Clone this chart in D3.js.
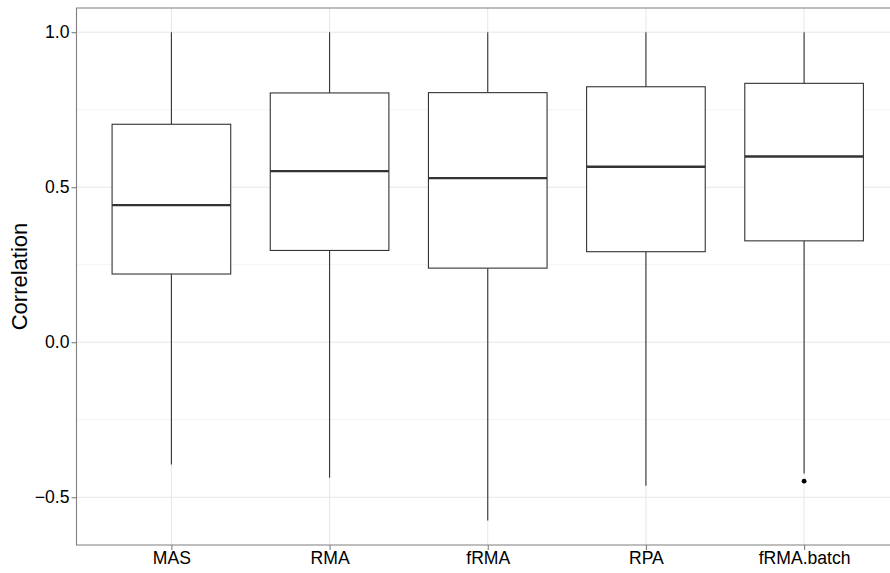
<!DOCTYPE html>
<html>
<head>
<meta charset="utf-8">
<script src="https://cdn.jsdelivr.net/npm/d3@7"></script>
<style>
  html, body { margin: 0; background: #fff; overflow: hidden; }
  svg { display: block; overflow: hidden; font-family: "Liberation Sans", Arial, sans-serif; }
</style>
</head>
<body>
<div id="chart"></div>
<script>
// box statistics
const methods = ["MAS", "RMA", "fRMA", "RPA", "fRMA.batch"];
const whiskerLow = [-0.394, -0.437, -0.575, -0.463, -0.423];
const q1 = [0.220, 0.296, 0.239, 0.292, 0.327];
const median = [0.442, 0.552, 0.529, 0.566, 0.599];
const q3 = [0.703, 0.804, 0.805, 0.824, 0.835];
const whiskerHigh = [1.0, 1.0, 1.0, 1.0, 1.0];
const outliers = [{ method: "fRMA.batch", value: -0.448 }];

const yTicks = [-0.5, 0.0, 0.5, 1.0];
const yMinor = [-0.25, 0.25, 0.75];

const width = 890, height = 573;
const panel = { left: 76.5, top: 8, right: 899, bottom: 545 };

const boxes = methods.map((m, i) => ({
    method: m, lo: whiskerLow[i], q1: q1[i], med: median[i], q3: q3[i], hi: whiskerHigh[i]
}));

const x = d3.scalePoint()
    .domain(methods)
    .range([panel.left, panel.right])
    .padding(0.6);

const y = d3.scaleLinear()
    .domain([-0.654, 1.078])
    .range([panel.bottom, panel.top]);

const boxWidth = x.step() * 0.75;

const svg = d3.select('#chart').append('svg')
    .attr('width', width)
    .attr('height', height);

// grid
const grid = svg.append('g');
grid.selectAll('line.minor')
    .data(yMinor)
    .enter().append('line')
    .attr('x1', panel.left).attr('x2', width)
    .attr('y1', d => y(d)).attr('y2', d => y(d))
    .attr('stroke', '#f4f4f4').attr('stroke-width', 1);
grid.selectAll('line.major')
    .data(yTicks)
    .enter().append('line')
    .attr('x1', panel.left).attr('x2', width)
    .attr('y1', d => y(d)).attr('y2', d => y(d))
    .attr('stroke', '#e6e6e6').attr('stroke-width', 1);
grid.selectAll('line.vmajor')
    .data(methods)
    .enter().append('line')
    .attr('x1', d => x(d)).attr('x2', d => x(d))
    .attr('y1', panel.top).attr('y2', panel.bottom)
    .attr('stroke', '#e6e6e6').attr('stroke-width', 1);

// boxes
const g = svg.append('g')
    .selectAll('g.box')
    .data(boxes)
    .enter().append('g').attr('class', 'box');

g.append('line')
    .attr('x1', d => x(d.method)).attr('x2', d => x(d.method))
    .attr('y1', d => y(d.hi)).attr('y2', d => y(d.q3))
    .attr('stroke', '#333').attr('stroke-width', 1.1);
g.append('line')
    .attr('x1', d => x(d.method)).attr('x2', d => x(d.method))
    .attr('y1', d => y(d.q1)).attr('y2', d => y(d.lo))
    .attr('stroke', '#333').attr('stroke-width', 1.1);
g.append('rect')
    .attr('x', d => x(d.method) - boxWidth / 2)
    .attr('width', boxWidth)
    .attr('y', d => y(d.q3))
    .attr('height', d => y(d.q1) - y(d.q3))
    .attr('fill', '#fff')
    .attr('stroke', '#333').attr('stroke-width', 1.1);
g.append('line')
    .attr('x1', d => x(d.method) - boxWidth / 2).attr('x2', d => x(d.method) + boxWidth / 2)
    .attr('y1', d => y(d.med)).attr('y2', d => y(d.med))
    .attr('stroke', '#333').attr('stroke-width', 2.3);

svg.selectAll('circle.outlier')
    .data(outliers)
    .enter().append('circle')
    .attr('cx', d => x(d.method))
    .attr('cy', d => y(d.value))
    .attr('r', 2.4)
    .attr('fill', '#000');

// panel border: the right edge falls outside the picture, so only three sides
svg.append('path')
    .attr('d', `M${width + 2},${panel.top}H${panel.left}V${panel.bottom}H${width + 2}`)
    .attr('fill', 'none')
    .attr('stroke', '#7f7f7f').attr('stroke-width', 1.1);

// axes
const yAxis = svg.append('g')
    .attr('transform', `translate(${panel.left},0)`)
    .call(d3.axisLeft(y).tickValues(yTicks).tickFormat(d3.format('.1f')).tickSizeOuter(0).tickSize(5).tickPadding(2));
const xAxis = svg.append('g')
    .attr('transform', `translate(0,${panel.bottom})`)
    .call(d3.axisBottom(x).tickSizeOuter(0).tickSize(5).tickPadding(2));

[xAxis, yAxis].forEach(a => {
    a.select('.domain').remove();
    a.selectAll('.tick line').attr('stroke', '#7f7f7f').attr('stroke-width', 1.1);
    a.selectAll('.tick text')
        .attr('fill', '#000')
        .style('font-size', '17.6px')
        .style('font-family', '"Liberation Sans", Arial, sans-serif');
});
yAxis.selectAll('.tick text').text(d => d3.format('.1f')(d).replace('-', '\u2212'));

svg.append('text')
    .attr('transform', `translate(27,${(panel.top + panel.bottom) / 2}) rotate(-90)`)
    .attr('text-anchor', 'middle')
    .style('font-size', '22px')
    .attr('fill', '#000')
    .text('Correlation');
</script>
</body>
</html>
